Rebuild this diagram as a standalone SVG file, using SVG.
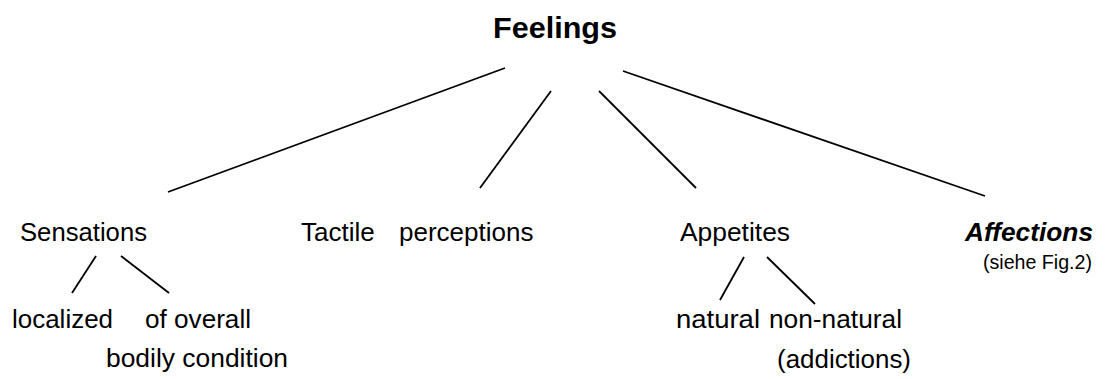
<svg xmlns="http://www.w3.org/2000/svg" width="1105" height="379" viewBox="0 0 1105 379">
<style>
text{font-family:"Liberation Sans",Arial,sans-serif;fill:#000;}
.t{font-size:26px;}
.s{font-size:19.5px;}
.h{font-size:30px;font-weight:bold;}
.a{font-size:26px;font-weight:bold;font-style:italic;}
#connectors line{stroke:#000;stroke-width:1.8;stroke-linecap:butt;}
</style>
<rect width="1105" height="379" fill="#fff"/>
<g id="connectors">
<line x1="505" y1="68" x2="168" y2="192"/>
<line x1="551" y1="91" x2="480" y2="188"/>
<line x1="599" y1="91" x2="696" y2="188"/>
<line x1="623" y1="71" x2="985" y2="196"/>
<line x1="96" y1="256" x2="72" y2="293"/>
<line x1="121" y1="256" x2="169" y2="293"/>
<line x1="744" y1="257" x2="720" y2="300"/>
<line x1="767" y1="257" x2="815" y2="304"/>
</g>
<g id="feelings"><text class="h" x="493" y="38" textLength="124" lengthAdjust="spacingAndGlyphs">Feelings</text></g>
<g id="sensations"><text class="t" x="20" y="241" textLength="127" lengthAdjust="spacingAndGlyphs">Sensations</text></g>
<g id="tactile"><text class="t" y="241"><tspan x="301">Tactile</tspan><tspan x="399">perceptions</tspan></text></g>
<g id="appetites"><text class="t" x="680" y="241" textLength="110" lengthAdjust="spacingAndGlyphs">Appetites</text></g>
<g id="affections"><text class="a" x="965" y="241" textLength="128" lengthAdjust="spacingAndGlyphs">Affections</text><text class="s" x="983" y="269" textLength="109" lengthAdjust="spacingAndGlyphs">(siehe Fig.2)</text></g>
<g id="localized"><text class="t" x="12" y="328" textLength="101" lengthAdjust="spacingAndGlyphs">localized</text></g>
<g id="overall"><text class="t" x="145" y="328" textLength="106" lengthAdjust="spacingAndGlyphs">of overall</text><text class="t" x="106" y="367" textLength="182" lengthAdjust="spacingAndGlyphs">bodily condition</text></g>
<g id="natural"><text class="t" x="676" y="328" textLength="84" lengthAdjust="spacingAndGlyphs">natural</text></g>
<g id="nonnatural"><text class="t" x="769" y="328" textLength="133" lengthAdjust="spacingAndGlyphs">non-natural</text><text class="t" x="777" y="368" textLength="134" lengthAdjust="spacingAndGlyphs">(addictions)</text></g>
</svg>
